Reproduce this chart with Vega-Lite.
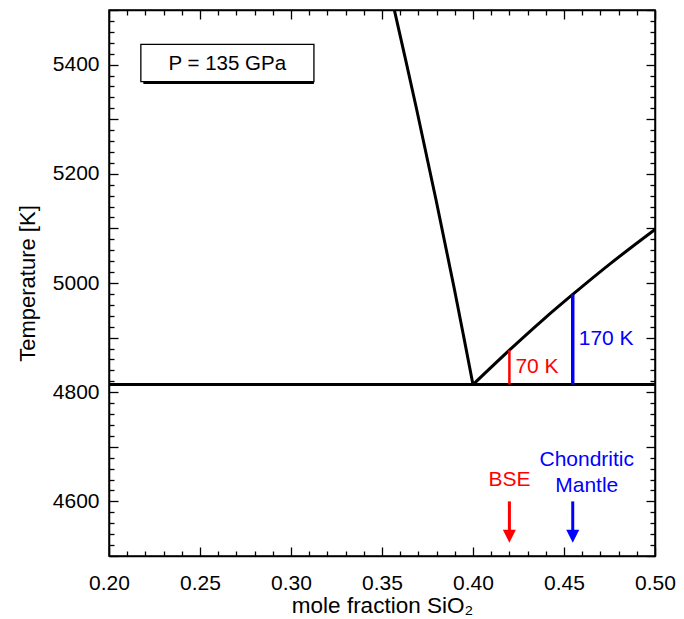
{
  "$schema": "https://vega.github.io/schema/vega-lite/v6.json",
  "width": 546,
  "height": 546,
  "autosize": "none",
  "padding": {"left": 109, "top": 10, "right": 29, "bottom": 63},
  "background": "white",
  "config": {
    "font": "Liberation Sans",
    "view": {"stroke": "black", "strokeWidth": 1.5},
    "axis": {
      "domainColor": "black", "domainWidth": 1.5, "tickColor": "black", "tickWidth": 1.3,
      "labelColor": "black", "titleColor": "black", "labelFont": "Liberation Sans", "titleFont": "Liberation Sans",
      "labelFontSize": 21, "titleFontWeight": "normal", "grid": false,
      "labelOverlap": false, "labelFlush": false, "labelBound": false
    }
  },
  "datasets": {
    "curves": [
      {"curve": "eutectic", "ord": 0, "x": 0.20, "T": 4814},
      {"curve": "eutectic", "ord": 1, "x": 0.50, "T": 4814},
      {"curve": "liqA", "ord": 0, "x": 0.3568, "T": 5500},
      {"curve": "liqA", "ord": 1, "x": 0.3629, "T": 5410},
      {"curve": "liqA", "ord": 2, "x": 0.3689, "T": 5320},
      {"curve": "liqA", "ord": 3, "x": 0.3797, "T": 5152},
      {"curve": "liqA", "ord": 4, "x": 0.3897, "T": 4990},
      {"curve": "liqA", "ord": 5, "x": 0.3950, "T": 4900},
      {"curve": "liqA", "ord": 6, "x": 0.400, "T": 4814},
      {"curve": "liqB", "ord": 0, "x": 0.400, "T": 4814},
      {"curve": "liqB", "ord": 1, "x": 0.420, "T": 4877},
      {"curve": "liqB", "ord": 2, "x": 0.4386, "T": 4933},
      {"curve": "liqB", "ord": 3, "x": 0.4548, "T": 4979},
      {"curve": "liqB", "ord": 4, "x": 0.4753, "T": 5035},
      {"curve": "liqB", "ord": 5, "x": 0.500, "T": 5098}
    ],
    "box": [
      {"x0": 0.2175, "x1": 0.3126, "T0": 5369, "T1": 5437, "xc": 0.265, "Tc": 5402, "label": "P = 135 GPa"}
    ],
    "comps": [
      {"group": "BSE", "x": 0.420, "Tsol": 4814, "Tliq": 4877, "Tmid": 4846, "dT": "70 K"},
      {"group": "Chondritic Mantle", "x": 0.4548, "Tsol": 4814, "Tliq": 4979, "Tmid": 4897, "dT": "170 K"}
    ],
    "names": [
      {"group": "BSE", "x": 0.420, "T": 4640, "text": "BSE"},
      {"group": "Chondritic Mantle", "x": 0.4625, "T": 4675, "text": "Chondritic"},
      {"group": "Chondritic Mantle", "x": 0.4625, "T": 4628, "text": "Mantle"}
    ]
  },
  "layer": [
    {
      "data": {"name": "curves"},
      "mark": {"type": "line", "color": "black", "strokeWidth": 3, "strokeCap": "butt", "strokeJoin": "miter", "interpolate": "monotone"},
      "encoding": {
        "x": {"field": "x", "type": "quantitative", "scale": {"domain": [0.2, 0.5], "nice": false, "zero": false},
          "axis": {"orient": "bottom", "title": "mole fraction SiO₂", "titleFontSize": 22.5,
            "values": [0.20,0.21,0.22,0.23,0.24,0.25,0.26,0.27,0.28,0.29,0.30,0.31,0.32,0.33,0.34,0.35,0.36,0.37,0.38,0.39,0.40,0.41,0.42,0.43,0.44,0.45,0.46,0.47,0.48,0.49,0.50],
            "tickSize": {"condition": {"test": "round(datum.value*100) % 5 == 0", "value": -9}, "value": -5},
            "labelExpr": "round(datum.value*100) % 5 == 0 ? format(datum.value, '.2f') : ''",
            "labelPadding": 25, "titlePadding": -3}},
        "y": {"field": "T", "type": "quantitative", "scale": {"domain": [4500, 5500], "nice": false, "zero": false},
          "axis": {"orient": "left", "title": "Temperature [K]", "titleFontSize": 22,
            "values": [4500,4520,4540,4560,4580,4600,4620,4640,4660,4680,4700,4720,4740,4760,4780,4800,4820,4840,4860,4880,4900,4920,4940,4960,4980,5000,5020,5040,5060,5080,5100,5120,5140,5160,5180,5200,5220,5240,5260,5280,5300,5320,5340,5360,5380,5400,5420,5440,5460,5480,5500],
            "tickSize": {"condition": {"test": "datum.value % 100 == 0", "value": -9}, "value": -5},
            "labelExpr": "datum.value % 200 == 0 ? format(datum.value, 'd') : ''",
            "labelPadding": 19, "titlePadding": 13}},
        "detail": {"field": "curve", "type": "nominal"},
        "order": {"field": "ord", "type": "quantitative"}
      }
    },
    {
      "data": {"name": "box"},
      "mark": {"type": "rect", "color": "black", "xOffset": 2.5, "yOffset": 2.5},
      "encoding": {
        "x": {"field": "x0", "type": "quantitative", "scale": {"domain": [0.2, 0.5], "nice": false, "zero": false},
          "axis": {"orient": "top", "title": null, "labels": false,
            "values": [0.20,0.21,0.22,0.23,0.24,0.25,0.26,0.27,0.28,0.29,0.30,0.31,0.32,0.33,0.34,0.35,0.36,0.37,0.38,0.39,0.40,0.41,0.42,0.43,0.44,0.45,0.46,0.47,0.48,0.49,0.50],
            "tickSize": {"condition": {"test": "round(datum.value*100) % 5 == 0", "value": -9}, "value": -5}}},
        "x2": {"field": "x1"},
        "y": {"field": "T0", "type": "quantitative", "scale": {"domain": [4500, 5500], "nice": false, "zero": false},
          "axis": {"orient": "right", "title": null, "labels": false,
            "values": [4500,4520,4540,4560,4580,4600,4620,4640,4660,4680,4700,4720,4740,4760,4780,4800,4820,4840,4860,4880,4900,4920,4940,4960,4980,5000,5020,5040,5060,5080,5100,5120,5140,5160,5180,5200,5220,5240,5260,5280,5300,5320,5340,5360,5380,5400,5420,5440,5460,5480,5500],
            "tickSize": {"condition": {"test": "datum.value % 100 == 0", "value": -9}, "value": -5}}},
        "y2": {"field": "T1"}
      }
    },
    {
      "data": {"name": "box"},
      "mark": {"type": "rect", "fill": "white", "stroke": "black", "strokeWidth": 1.3},
      "encoding": {
        "x": {"field": "x0", "type": "quantitative", "scale": {"domain": [0.2, 0.5], "nice": false, "zero": false}, "axis": null},
        "x2": {"field": "x1"},
        "y": {"field": "T0", "type": "quantitative", "scale": {"domain": [4500, 5500], "nice": false, "zero": false}, "axis": null},
        "y2": {"field": "T1"}
      }
    },
    {
      "data": {"name": "box"},
      "mark": {"type": "text", "fontSize": 20.5, "color": "black", "align": "center", "baseline": "middle"},
      "encoding": {
        "x": {"field": "xc", "type": "quantitative", "scale": {"domain": [0.2, 0.5], "nice": false, "zero": false}, "axis": null},
        "y": {"field": "Tc", "type": "quantitative", "scale": {"domain": [4500, 5500], "nice": false, "zero": false}, "axis": null},
        "text": {"field": "label"}
      }
    },
    {
      "data": {"name": "comps"},
      "mark": {"type": "rule", "strokeCap": "butt"},
      "encoding": {
        "x": {"field": "x", "type": "quantitative", "scale": {"domain": [0.2, 0.5], "nice": false, "zero": false}, "axis": null},
        "y": {"field": "Tsol", "type": "quantitative", "scale": {"domain": [4500, 5500], "nice": false, "zero": false}, "axis": null},
        "y2": {"field": "Tliq"},
        "color": {"field": "group", "type": "nominal", "scale": {"domain": ["BSE", "Chondritic Mantle"], "range": ["#ff0000", "#0000ff"]}, "legend": null},
        "size": {"field": "group", "type": "nominal", "scale": {"domain": ["BSE", "Chondritic Mantle"], "range": [2.5, 3.5]}, "legend": null}
      }
    },
    {
      "data": {"name": "comps"},
      "mark": {"type": "text", "fontSize": 21, "align": "left", "baseline": "middle", "dx": 6},
      "encoding": {
        "x": {"field": "x", "type": "quantitative", "scale": {"domain": [0.2, 0.5], "nice": false, "zero": false}, "axis": null},
        "y": {"field": "Tmid", "type": "quantitative", "scale": {"domain": [4500, 5500], "nice": false, "zero": false}, "axis": null},
        "text": {"field": "dT"},
        "color": {"field": "group", "type": "nominal", "scale": {"domain": ["BSE", "Chondritic Mantle"], "range": ["#ff0000", "#0000ff"]}, "legend": null}
      }
    },
    {
      "data": {"name": "comps"},
      "mark": {"type": "rule", "strokeWidth": 3, "strokeCap": "butt"},
      "encoding": {
        "x": {"field": "x", "type": "quantitative", "scale": {"domain": [0.2, 0.5], "nice": false, "zero": false}, "axis": null},
        "y": {"datum": 4600, "type": "quantitative", "scale": {"domain": [4500, 5500], "nice": false, "zero": false}, "axis": null},
        "y2": {"datum": 4540},
        "color": {"field": "group", "type": "nominal", "scale": {"domain": ["BSE", "Chondritic Mantle"], "range": ["#ff0000", "#0000ff"]}, "legend": null}
      }
    },
    {
      "data": {"name": "comps"},
      "mark": {"type": "point", "shape": "M-1,-1L1,-1L0,1Z", "size": 169, "filled": true, "opacity": 1, "strokeWidth": 0},
      "encoding": {
        "x": {"field": "x", "type": "quantitative", "scale": {"domain": [0.2, 0.5], "nice": false, "zero": false}, "axis": null},
        "y": {"datum": 4536, "type": "quantitative", "scale": {"domain": [4500, 5500], "nice": false, "zero": false}, "axis": null},
        "color": {"field": "group", "type": "nominal", "scale": {"domain": ["BSE", "Chondritic Mantle"], "range": ["#ff0000", "#0000ff"]}, "legend": null}
      }
    },
    {
      "data": {"name": "names"},
      "mark": {"type": "text", "fontSize": 21, "align": "center", "baseline": "middle"},
      "encoding": {
        "x": {"field": "x", "type": "quantitative", "scale": {"domain": [0.2, 0.5], "nice": false, "zero": false}, "axis": null},
        "y": {"field": "T", "type": "quantitative", "scale": {"domain": [4500, 5500], "nice": false, "zero": false}, "axis": null},
        "text": {"field": "text"},
        "color": {"field": "group", "type": "nominal", "scale": {"domain": ["BSE", "Chondritic Mantle"], "range": ["#ff0000", "#0000ff"]}, "legend": null}
      }
    }
  ],
  "resolve": {"axis": {"x": "independent", "y": "independent"}}
}
